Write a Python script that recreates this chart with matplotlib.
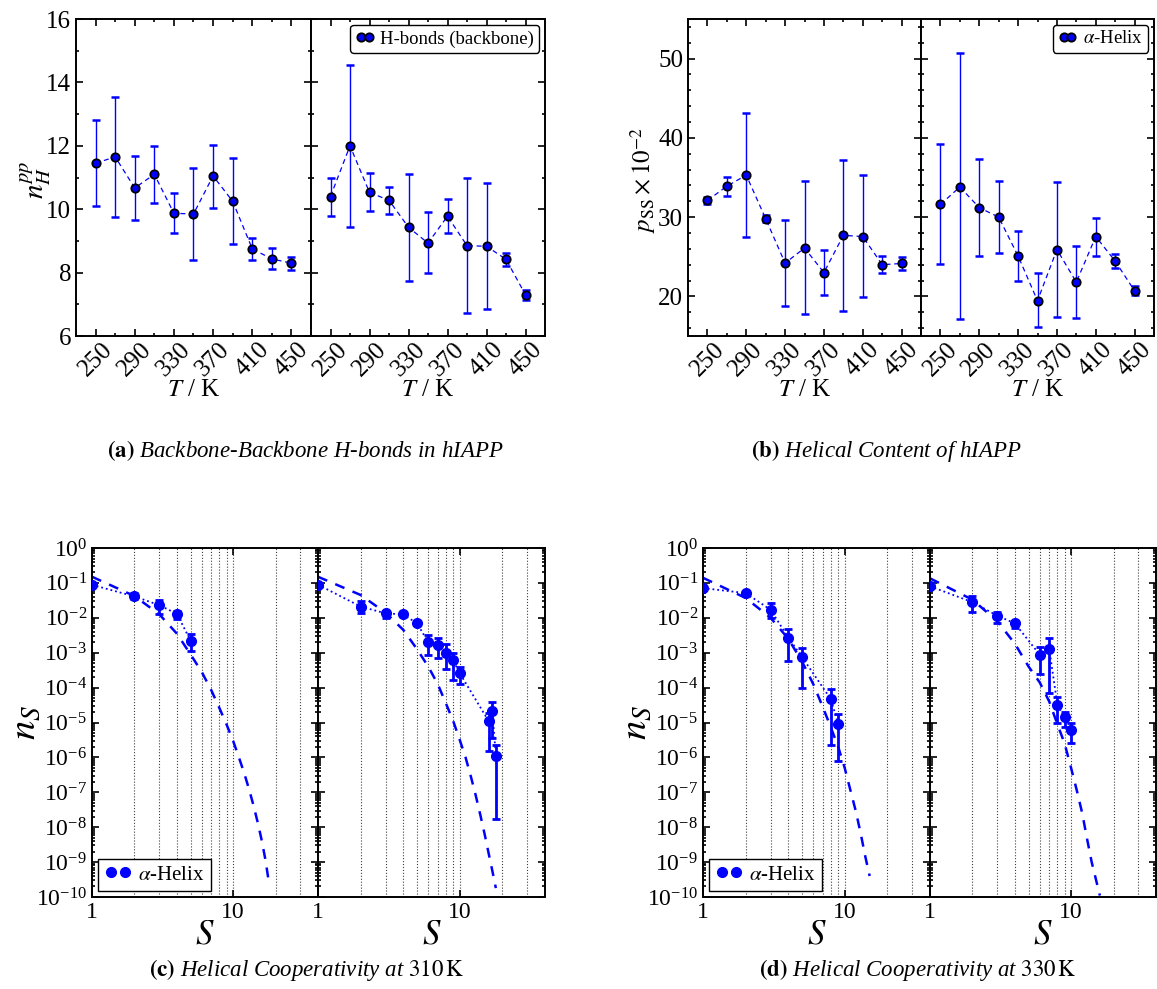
import numpy as np
import matplotlib
matplotlib.use('Agg')
import matplotlib.pyplot as plt
from matplotlib.lines import Line2D
from matplotlib.ticker import MultipleLocator, FixedLocator, LogLocator, NullFormatter

plt.rcParams['font.family'] = ['Liberation Serif', 'DejaVu Serif']
plt.rcParams['mathtext.fontset'] = 'stix'

# temperatures of the replica runs
temps = [250, 270, 290, 310, 330, 350, 370, 390, 410, 430, 450]

# (a) backbone-backbone H-bonds, two simulation sets
hb_a = [11.45, 11.65, 10.67, 11.1, 9.87, 9.85, 11.05, 10.25, 8.75, 8.43, 8.3]
hb_a_lo = [10.1, 9.75, 9.65, 10.2, 9.25, 8.4, 10.05, 8.9, 8.4, 8.1, 8.08]
hb_a_hi = [12.8, 13.55, 11.67, 12.0, 10.5, 11.3, 12.03, 11.6, 9.1, 8.77, 8.5]
hb_b = [10.4, 12.0, 10.53, 10.28, 9.43, 8.93, 9.78, 8.85, 8.83, 8.42, 7.3]
hb_b_lo = [9.8, 9.45, 9.93, 9.85, 7.75, 7.98, 9.25, 6.72, 6.85, 8.2, 7.15]
hb_b_hi = [11.0, 14.55, 11.13, 10.7, 11.12, 9.9, 10.32, 11.0, 10.83, 8.63, 7.45]

# (b) helical content
helix_a = [32.1, 33.9, 35.3, 29.8, 24.2, 26.1, 23.0, 27.7, 27.55, 24.0, 24.15]
helix_a_lo = [31.6, 32.7, 27.5, 29.35, 18.75, 17.75, 20.2, 18.2, 19.9, 23.0, 23.35]
helix_a_hi = [32.6, 35.1, 43.2, 30.3, 29.7, 34.6, 25.8, 37.2, 35.3, 25.1, 25.0]
helix_b = [31.6, 33.8, 31.2, 30.0, 25.1, 19.45, 25.9, 21.8, 27.55, 24.45, 20.7]
helix_b_lo = [24.1, 17.1, 25.1, 25.45, 21.9, 16.1, 17.4, 17.3, 25.15, 23.6, 20.2]
helix_b_hi = [39.25, 50.7, 37.35, 34.6, 28.3, 22.9, 34.45, 26.4, 29.85, 25.3, 21.3]

# (c) helical segment size distribution at 310 K
S_310_a = [1, 2, 3, 4, 5]
ns_310_a = [8.8e-2, 4.1e-2, 2.3e-2, 1.3e-2, 2.2e-3]
ns_310_a_lo = [8.8e-2, 3.5e-2, 1.3e-2, 9.5e-3, 1.1e-3]
ns_310_a_hi = [8.8e-2, 5.0e-2, 3.3e-2, 1.55e-2, 3.4e-3]
S_310_b = [1, 2, 3, 4, 5, 6, 7, 8, 9, 10, 16, 17, 18]
ns_310_b = [8.9e-2, 2.1e-2, 1.34e-2, 1.25e-2, 6.9e-3, 2.0e-3, 1.7e-3, 1.0e-3,
            6.0e-4, 2.6e-4, 1.1e-5, 2.1e-5, 1.1e-6]
ns_310_b_lo = [8.9e-2, 1.4e-2, 9.6e-3, 1.1e-2, 6.5e-3, 8.8e-4, 7.1e-4, 3.4e-4,
               1.7e-4, 1.3e-4, 1.5e-6, 3.5e-6, 1.7e-8]
ns_310_b_hi = [8.9e-2, 3.0e-2, 1.6e-2, 1.4e-2, 7.3e-3, 3.2e-3, 2.7e-3, 1.8e-3,
               1.0e-3, 4.0e-4, 1.9e-5, 3.8e-5, 2.2e-6]
S_model_310 = list(range(1, 19))
model_310_a = [1.5e-1, 4.2e-2, 1.26e-2, 3.5e-3, 8.9e-4, 2.8e-4, 8.5e-5, 2.6e-5, 8.7e-6,
               3.0e-6, 1.0e-6, 3.5e-7, 1.2e-7, 4.0e-8, 1.3e-8, 4.0e-9, 1.1e-9, 2.4e-10]
model_310_b = [1.5e-1, 4.5e-2, 1.4e-2, 4.5e-3, 1.26e-3, 4.0e-4, 1.26e-4, 3.5e-5, 1.1e-5,
               3.2e-6, 1.0e-6, 2.8e-7, 7.9e-8, 2.2e-8, 6.3e-9, 1.8e-9, 5.6e-10, 1.8e-10]

# (d) helical segment size distribution at 330 K
S_330_a = [1, 2, 3, 4, 5, 8, 9]
ns_330_a = [7.1e-2, 5.1e-2, 1.7e-2, 2.7e-3, 7.5e-4, 4.6e-5, 8.8e-6]
ns_330_a_lo = [7.1e-2, 4.3e-2, 1.0e-2, 5.9e-4, 1.0e-4, 2.2e-6, 8.0e-7]
ns_330_a_hi = [7.1e-2, 6.0e-2, 2.6e-2, 4.7e-3, 1.4e-3, 8.9e-5, 1.7e-5]
S_330_b = [1, 2, 3, 4, 6, 7, 8, 9, 10]
ns_330_b = [8.0e-2, 2.8e-2, 1.15e-2, 6.9e-3, 8.7e-4, 1.3e-3, 3.2e-5, 1.4e-5, 6.3e-6]
ns_330_b_lo = [8.0e-2, 1.5e-2, 7.3e-3, 5.2e-3, 2.5e-4, 6.9e-5, 9.5e-6, 7.5e-6, 2.6e-6]
ns_330_b_hi = [8.0e-2, 4.1e-2, 1.5e-2, 8.3e-3, 1.5e-3, 2.6e-3, 5.5e-5, 2.0e-5, 1.0e-5]
S_model_330_a = list(range(1, 16))
model_330_a = [1.4e-1, 3.7e-2, 1.0e-2, 2.5e-3, 5.6e-4, 1.26e-4, 2.8e-5, 7.1e-6,
               2.0e-6, 5.0e-7, 1.1e-7, 2.8e-8, 6.3e-9, 1.4e-9, 4.0e-10]
S_model_330_b = list(range(1, 17))
model_330_b = [1.35e-1, 3.3e-2, 8.0e-3, 1.8e-3, 4.0e-4, 1.4e-4, 4.0e-5, 8.9e-6,
               2.5e-6, 5.0e-7, 1.1e-7, 2.5e-8, 4.5e-9, 1.0e-9, 3.2e-10, 1.1e-10]

BLUE = '#0000ff'
W, H = 1157, 989
fig = plt.figure(figsize=(W / 100, H / 100), dpi=100)


def box(l, r, t, b):
    return [l / W, 1 - b / H, (r - l) / W, (b - t) / H]


def style(ax, size):
    for sp in ax.spines.values():
        sp.set_linewidth(1.4)
    ax.tick_params(which='both', direction='in', top=True, right=True, width=1.2,
                   labelsize=size)
    ax.tick_params(which='major', length=5)
    ax.tick_params(which='minor', length=2.5)


def temp_panel(ax, y, lo, hi, ylim, major, minor, first):
    y = np.array(y)
    err = [y - np.array(lo), np.array(hi) - y]
    ax.plot(temps, y, color=BLUE, lw=0.9, dashes=(4, 3), zorder=2)
    ax.errorbar(temps, y, yerr=err, fmt='none', ecolor=BLUE, elinewidth=1.0,
                capsize=3, capthick=1.8, zorder=3)
    ax.plot(temps, y, 'o', ms=6, mfc=BLUE, mec='k', mew=1.3, zorder=4)
    ax.set_xlim(230, 470)
    ax.set_ylim(*ylim)
    ax.xaxis.set_major_locator(FixedLocator([250, 290, 330, 370, 410, 450]))
    ax.xaxis.set_minor_locator(FixedLocator([270, 310, 350, 390, 430]))
    ax.yaxis.set_major_locator(MultipleLocator(major))
    ax.yaxis.set_minor_locator(MultipleLocator(minor))
    style(ax, 18)
    for lab in ax.get_xticklabels():
        lab.set_rotation(45)
    ax.tick_params(axis='x', pad=2)
    if not first:
        ax.tick_params(labelleft=False)
    ax.set_xlabel(r'$T$ / K', fontsize=18, labelpad=-1)


def coop_panel(ax, S, ns, lo, hi, Sm, model, first):
    ns = np.array(ns)
    err = [ns - np.array(lo), np.array(hi) - ns]
    ax.plot(Sm, model, color=BLUE, lw=1.8, dashes=(4, 3.5), zorder=2)
    ax.plot(S, ns, color=BLUE, lw=1.3, ls=':', zorder=2)
    ax.errorbar(S, ns, yerr=err, fmt='o', ms=7, color=BLUE, ecolor=BLUE,
                elinewidth=2.0, capsize=3, capthick=2.0, zorder=3)
    ax.set_xscale('log')
    ax.set_yscale('log')
    ax.set_xlim(1, 40)
    ax.set_ylim(1e-10, 1)
    ax.xaxis.set_major_locator(FixedLocator([1, 10]))
    ax.xaxis.set_minor_locator(FixedLocator([2, 3, 4, 5, 6, 7, 8, 9, 20, 30]))
    ax.xaxis.set_minor_formatter(NullFormatter())
    ax.set_xticklabels(['1', '10'])
    ax.yaxis.set_major_locator(LogLocator(base=10, numticks=15))
    ax.yaxis.set_minor_locator(LogLocator(base=10, subs=np.arange(2, 10), numticks=15))
    ax.yaxis.set_minor_formatter(NullFormatter())
    ax.grid(True, which='both', axis='x', ls=':', color='0.25', lw=0.8)
    style(ax, 17)
    ax.tick_params(axis='x', which='minor', length=0)
    if not first:
        ax.tick_params(labelleft=False)
    ax.set_xlabel(r'$S$', fontsize=25, labelpad=-3)


def add_legend(ax, label, black_edge, loc, size, hl):
    if black_edge:
        h = Line2D([], [], ls='none', marker='o', ms=6, mfc=BLUE, mec='k', mew=1.3)
    else:
        h = Line2D([], [], ls='none', marker='o', ms=7, color=BLUE)
    ax.legend([h], [label], loc=loc, numpoints=2, fontsize=size,
              handlelength=hl, handletextpad=0.3, borderaxespad=0.3, borderpad=0.3,
              fancybox=black_edge, edgecolor='k', framealpha=1)


# panel (a)
ax = fig.add_axes(box(76, 311, 19, 336))
temp_panel(ax, hb_a, hb_a_lo, hb_a_hi, (6, 16), 2, 1, True)
ax = fig.add_axes(box(311, 545, 19, 336))
temp_panel(ax, hb_b, hb_b_lo, hb_b_hi, (6, 16), 2, 1, False)
add_legend(ax, 'H-bonds (backbone)', True, 'upper right', 13.5, 1.0)
fig.text(36 / W, 1 - 180 / H, r'$n_H^{pp}$', fontsize=21, rotation=90, ha='center', va='center')

# panel (b)
ax = fig.add_axes(box(688, 921, 19, 336))
temp_panel(ax, helix_a, helix_a_lo, helix_a_hi, (15, 55), 10, 2, True)
ax = fig.add_axes(box(921, 1154, 19, 336))
temp_panel(ax, helix_b, helix_b_lo, helix_b_hi, (15, 55), 10, 2, False)
add_legend(ax, r'$\alpha$-Helix', True, 'upper right', 13.5, 1.0)
fig.text(643 / W, 1 - 180 / H, r'$p_{\mathrm{SS}} \times 10^{-2}$', fontsize=18,
         rotation=90, ha='center', va='center')

# panel (c)
ax = fig.add_axes(box(92, 318, 548, 897))
coop_panel(ax, S_310_a, ns_310_a, ns_310_a_lo, ns_310_a_hi, S_model_310, model_310_a, True)
add_legend(ax, r'$\alpha$-Helix', False, 'lower left', 15, 1.3)
ax = fig.add_axes(box(318, 545, 548, 897))
coop_panel(ax, S_310_b, ns_310_b, ns_310_b_lo, ns_310_b_hi, S_model_310, model_310_b, False)
fig.text(25 / W, 1 - 722 / H, r'$n_S$', fontsize=28, rotation=90, ha='center', va='center')

# panel (d)
ax = fig.add_axes(box(703, 930, 548, 897))
coop_panel(ax, S_330_a, ns_330_a, ns_330_a_lo, ns_330_a_hi, S_model_330_a, model_330_a, True)
add_legend(ax, r'$\alpha$-Helix', False, 'lower left', 15, 1.3)
ax = fig.add_axes(box(930, 1156, 548, 897))
coop_panel(ax, S_330_b, ns_330_b, ns_330_b_lo, ns_330_b_hi, S_model_330_b, model_330_b, False)
fig.text(636 / W, 1 - 722 / H, r'$n_S$', fontsize=28, rotation=90, ha='center', va='center')

# captions
fig.text(305 / W, 1 - 451 / H, r'$\mathbf{(a)}$ Backbone-Backbone H-bonds in hIAPP',
         fontsize=16.5, style='italic', ha='center', va='center')
fig.text(886 / W, 1 - 451 / H, r'$\mathbf{(b)}$ Helical Content of hIAPP',
         fontsize=16.5, style='italic', ha='center', va='center')
fig.text(306 / W, 1 - 970 / H, r'$\mathbf{(c)}$ Helical Cooperativity at $310\,\mathrm{K}$',
         fontsize=16.5, style='italic', ha='center', va='center')
fig.text(918 / W, 1 - 970 / H, r'$\mathbf{(d)}$ Helical Cooperativity at $330\,\mathrm{K}$',
         fontsize=16.5, style='italic', ha='center', va='center')

fig.savefig('out.png', dpi=100)
